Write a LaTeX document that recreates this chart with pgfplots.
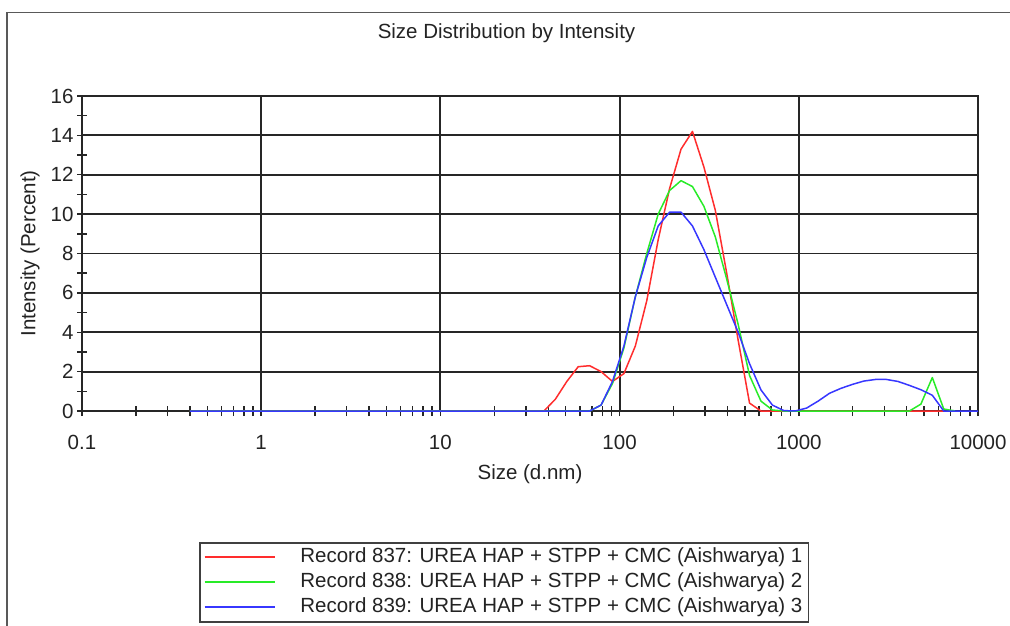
\documentclass[border=0pt]{standalone}
\usepackage{pgfplots}
\pgfplotsset{compat=1.18}
\usepackage{fontspec}
\setmainfont{Liberation Sans}
\definecolor{cred}{RGB}{255,45,45}
\definecolor{cgreen}{RGB}{40,235,40}
\definecolor{cblue}{RGB}{55,55,255}
\definecolor{txt}{RGB}{35,35,35}
\newcommand{\fs}{\fontsize{20.5}{24}\selectfont}
\begin{document}
\begin{tikzpicture}
\useasboundingbox (-82pt,-215pt) rectangle (928pt,411pt);
\draw[black!65, line width=1.3pt] (-75pt,-215pt) -- (-75pt,398.5pt) -- (928pt,398.5pt);
\node[anchor=base, text=txt, font=\fs, inner sep=0pt] at (424.5pt,372pt) {Size Distribution by Intensity};
\begin{axis}[
  at={(0pt,0pt)}, anchor=south west,
  width=896pt, height=315pt, scale only axis,
  xmode=log, xmin=0.1, xmax=10000, ymin=0, ymax=16,
  clip=false,
  xtick={0.1,1,10,100,1000,10000},
  xticklabels={0.1,1,10,100,1000,10000},
  minor xtick={0.2,0.3,0.4,0.5,0.6,0.7,0.8,0.9,2,3,4,5,6,7,8,9,20,30,40,50,60,70,80,90,200,300,400,500,600,700,800,900,2000,3000,4000,5000,6000,7000,8000,9000},
  ytick={0,2,4,6,8,10,12,14,16},
  minor ytick={1,3,5,7,9,11,13,15},
  /pgf/number format/assume math mode=true,
  tick label style={font=\fs, text=txt},
  xticklabel style={anchor=base, yshift=-33pt},
  tick pos=left,
  tick align=center,
  major tick length=10pt, minor tick length=10pt,
  tick style={black!85, line width=1.4pt},
  grid=major,
  major grid style={black!85, line width=1.8pt},
  axis line style={black!85, line width=1.8pt},
  xlabel={Size (d.nm)},
  ylabel={Intensity (Percent)},
  every axis x label/.style={at={(axis description cs:0.5,-0.2)}, anchor=center, font=\fs, text=txt},
  every axis y label/.style={at={(axis description cs:-0.058,0.5)}, anchor=center, rotate=90, font=\fs, text=txt},
  legend style={at={(axis description cs:0.1306,-0.4159)}, anchor=north west,
    draw=black!75, line width=1.5pt, fill=white, inner xsep=4pt, inner ysep=2pt,
    font=\fs, text=txt, /tikz/column sep=23pt,
    nodes={inner xsep=2pt, inner ysep=2.5pt, text height=15pt, text depth=5pt},
    cells={anchor=west}},
  legend image code/.code={\draw[#1, line width=1.6pt] (0pt,0pt) -- (70pt,0pt);},
]
\addplot[cred, line width=1.5pt, line join=round] coordinates {
(0.4,0) (37.84,0) (43.82,0.6) (50.75,1.5) (58.77,2.25) (68.06,2.3) (78.82,2.0)
(91.28,1.5) (105.7,1.9) (122.4,3.3) (141.8,5.6) (164.2,8.7) (190.1,11.3)
(220.2,13.3) (255.0,14.2) (295.3,12.4) (342.0,10.2) (396.1,7.0) (458.7,3.6)
(531.2,0.4) (615.1,0) (6439,0)};
\addlegendentry{Record 837: UREA HAP + STPP + CMC (Aishwarya) 1}
\addplot[cgreen, line width=1.5pt, line join=round] coordinates {
(0.4,0) (68.06,0) (78.82,0.3) (91.28,1.4) (105.7,3.2) (122.4,5.8) (141.8,8.0)
(164.2,10.0) (190.1,11.2) (220.2,11.7) (255.0,11.4) (295.3,10.4) (342.0,8.85)
(396.1,6.7) (458.7,4.4) (531.2,1.8) (615.1,0.5) (712.4,0.05) (825.0,0)
(4145,0) (4801,0.35) (5560,1.7) (6439,0.1) (7456,0)};
\addlegendentry{Record 838: UREA HAP + STPP + CMC (Aishwarya) 2}
\addplot[cblue, line width=1.5pt, line join=round] coordinates {
(0.4,0) (68.06,0) (78.82,0.3) (91.28,1.5) (105.7,3.3) (122.4,5.8) (141.8,7.8)
(164.2,9.4) (190.1,10.1) (220.2,10.1) (255.0,9.4) (295.3,8.2) (342.0,6.8)
(396.1,5.4) (458.7,4.0) (531.2,2.4) (615.1,1.07) (712.4,0.3) (825.0,0.02)
(955.4,0) (1106,0.15) (1281,0.5) (1484,0.9) (1718,1.15) (1990,1.35) (2305,1.52)
(2669,1.6) (3091,1.6) (3580,1.5) (4145,1.3) (4801,1.08) (5560,0.8) (6439,0)
(7456,0) (8635,0) (10000,0)};
\addlegendentry{Record 839: UREA HAP + STPP + CMC (Aishwarya) 3}
\end{axis}
\end{tikzpicture}
\end{document}
